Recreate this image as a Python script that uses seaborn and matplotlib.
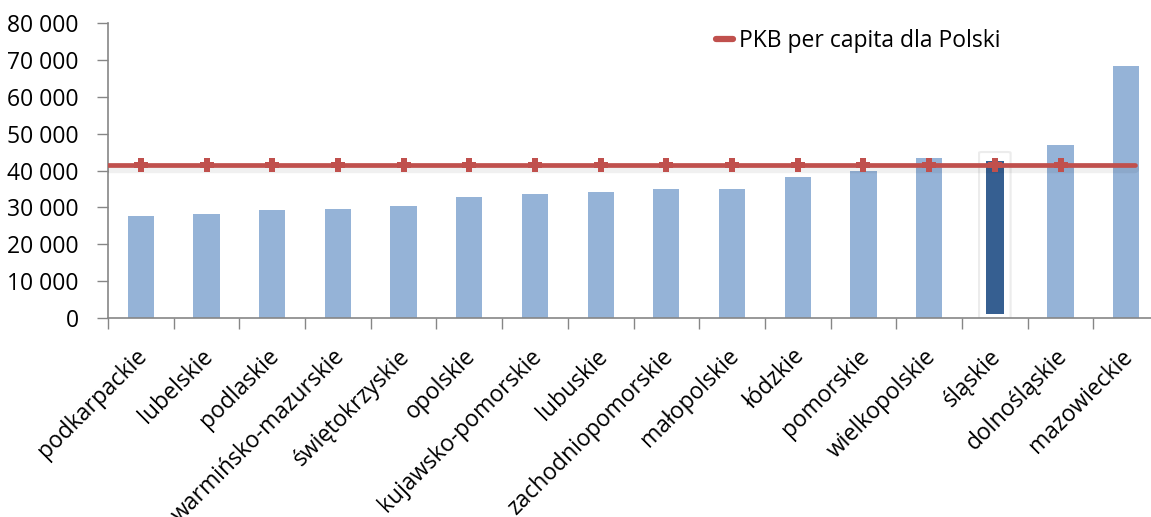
import matplotlib
matplotlib.use("Agg")
import matplotlib.pyplot as plt
import matplotlib.patheffects as pe
from matplotlib.lines import Line2D
from matplotlib.patches import FancyBboxPatch
from matplotlib.path import Path
from matplotlib.ticker import FuncFormatter, MultipleLocator, FixedLocator
from matplotlib.transforms import ScaledTranslation
import seaborn as sns
import pandas as pd

# ------------------- dane -------------------
regiony = ['podkarpackie', 'lubelskie', 'podlaskie', 'warmińsko-mazurskie',
           'świętokrzyskie', 'opolskie', 'kujawsko-pomorskie', 'lubuskie',
           'zachodniopomorskie', 'małopolskie', 'łódzkie', 'pomorskie',
           'wielkopolskie', 'śląskie', 'dolnośląskie', 'mazowieckie']
pkb_regiony = [27600, 28100, 29200, 29500, 30400, 32700, 33700, 34100,
               34900, 35100, 38200, 39800, 43300, 42500, 46800, 68200]
pkb_polska = 41400
wyrozniony = 'śląskie'
etykieta_linii = 'PKB per capita dla Polski'

# ------------------- styl -------------------
sns.set_style('white')
plt.rcParams['font.family'] = ['Open Sans', 'DejaVu Sans']
fs = 16.5

jasny = '#95B3D7'
ciemny = '#365F91'
czerwony = '#C0504D'
szary = '#868686'

# gruby plus jako znacznik (jak w Excelu)
a = 0.22
plus = Path([(-a, 0.5), (a, 0.5), (a, a), (0.5, a), (0.5, -a), (a, -a), (a, -0.5),
             (-a, -0.5), (-a, -a), (-0.5, -a), (-0.5, a), (-a, a), (-a, 0.5)])

df = pd.DataFrame({'region': regiony, 'pkb': pkb_regiony})
kolory = {r: (ciemny if r == wyrozniony else jasny) for r in regiony}

fig = plt.figure(figsize=(11.51, 5.17), dpi=100)
ax = fig.add_axes([0.0938, 0.3843, 0.9132, 0.5718])

sns.barplot(data=df, x='region', y='pkb', hue='region', palette=kolory,
            width=0.4, legend=False, saturation=1, edgecolor='none', ax=ax)

# wyroznienie slupka (wezszy, z ramka jak zaznaczenie w Excelu)
idx = regiony.index(wyrozniony)
val = pkb_regiony[idx]
for p in ax.patches:
    if abs(p.get_x() + p.get_width() / 2 - idx) < 0.01:
        p.set_width(0.27)
        p.set_x(idx - 0.135)
        p.set_y(1200)
        p.set_height(val - 1200)
        p.set_zorder(2)
ramka = FancyBboxPatch((idx - 0.24, 0), 0.48, val + 2500,
                       boxstyle='round,pad=0,rounding_size=0.05',
                       facecolor='white', edgecolor='#ececec', lw=1.5,
                       zorder=1.5, mutation_aspect=4000,
                       path_effects=[pe.SimplePatchShadow(offset=(0, -1), alpha=0.06),
                                     pe.Normal()])
ax.add_patch(ramka)

# linia PKB dla Polski
cien = [pe.Stroke(offset=(0, -2.5), linewidth=6, foreground='black', alpha=0.06),
        pe.Normal()]
ax.axhline(pkb_polska, xmin=0, xmax=0.977, color=czerwony, lw=3.4, zorder=3,
           path_effects=cien)
ax.plot(range(len(regiony)), [pkb_polska] * len(regiony), linestyle='none',
        marker=plus, ms=9.5, mew=0, color=czerwony, zorder=4,
        markevery=slice(0, len(regiony) - 1))

ax.set_xlim(-0.5, len(regiony) - 0.5)
ax.set_ylim(0, 80000)

# osie
ax.yaxis.set_major_locator(MultipleLocator(10000))
ax.yaxis.set_major_formatter(FuncFormatter(lambda v, _: f'{v:,.0f}'.replace(',', ' ')))
ax.tick_params(axis='y', length=8, width=1, color=szary, pad=13, labelsize=fs,
               labelcolor='black', left=True, direction='out')

ax.set_xticks(range(len(regiony)))
ax.set_xticklabels(regiony, rotation=45, ha='right', va='center',
                   rotation_mode='anchor', fontsize=fs, color='black')
ax.xaxis.set_minor_locator(FixedLocator([i - 0.5 for i in range(len(regiony) + 1)]))
ax.tick_params(axis='x', which='major', length=0, pad=25)
ax.tick_params(axis='x', which='minor', length=8, width=1, color=szary,
               bottom=True, direction='out')
for lbl in ax.get_xticklabels():
    lbl.set_transform(lbl.get_transform() + ScaledTranslation(3 / 100, 0, fig.dpi_scale_trans))

ax.set_xlabel('')
ax.set_ylabel('')
sns.despine(ax=ax)
for s in ['left', 'bottom']:
    ax.spines[s].set_color(szary)
    ax.spines[s].set_linewidth(1.2)
ax.grid(False)

# legenda
leg = ax.legend(handles=[Line2D([], [], color=czerwony, lw=4.5)], labels=[etykieta_linii],
                loc='upper left', bbox_to_anchor=(716 / 1151, 1 - 29 / 517),
                bbox_transform=fig.transFigure, frameon=False, fontsize=fs,
                handlelength=0.75, handletextpad=0.25, borderpad=0, borderaxespad=0)
for t in leg.get_texts():
    t.set_color('black')

fig.savefig('out.png', dpi=100)
